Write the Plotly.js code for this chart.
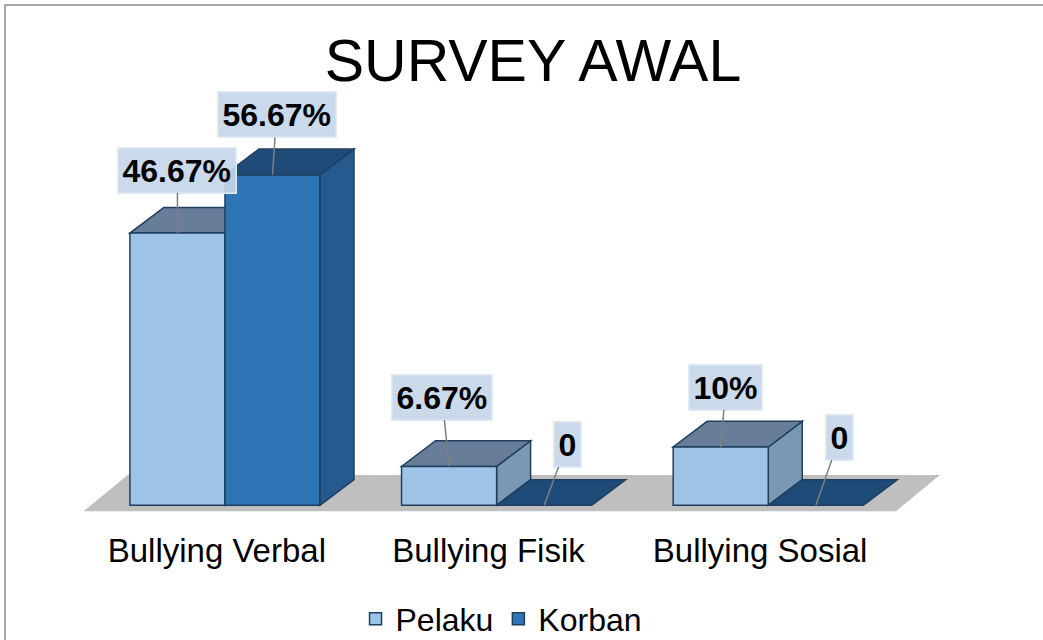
<!DOCTYPE html>
<html>
<head>
<meta charset="utf-8">
<script src="https://cdn.plot.ly/plotly-3.0.1.min.js"></script>
<style>html,body{margin:0;padding:0;background:#fff;}#chart{width:1043px;height:640px;}</style>
</head>
<body>
<div id="chart"></div>
<script>
// ---- data ----
const categories = ["Bullying Verbal", "Bullying Fisik", "Bullying Sosial"];
const pelaku = [46.67, 6.67, 10];
const korban = [56.67, 0, 0];
const seriesNames = ["Pelaku", "Korban"];
const chartTitle = "SURVEY AWAL";

// ---- styling / geometry (layout only) ----
const barW = 0.35;           // width of each bar in category units
const depthX = 0.125;        // 3D depth offset (x units)
const depthY = 4.4;          // 3D depth offset (y units)
const colors = {
  Pelaku: {front: "#9dc3e6", top: "#687e98", side: "#7a98b6"},
  Korban: {front: "#2e75b6", top: "#1f4b78", side: "#245a8e"}
};
const edge = "#1f3f5f";
// label box offsets in px (box centre relative to bar top centre)
const labelOffsets = {
  Pelaku: [[0, -63], [-7, -69], [5, -60]],
  Korban: [[4, -60], [23, -61], [24, -68]]
};
const font = "Liberation Sans, Arial, sans-serif";

const idx = categories.map((c, i) => i);
const series = [
  {name: seriesNames[0], values: pelaku, shift: -barW / 2},
  {name: seriesNames[1], values: korban, shift: barW / 2}
];

const traces = series.map(s => ({
  type: "bar",
  name: s.name,
  x: idx.map(i => i + s.shift),
  y: s.values,
  width: idx.map(() => barW),
  marker: {color: colors[s.name].front, line: {color: edge, width: 1.5}},
  hoverinfo: "skip",
  cliponaxis: false
}));

function poly(pts) {
  return "M " + pts.map(p => p[0] + "," + p[1]).join(" L ") + " Z";
}

const shapes = [];
// floor
const floorFront = -1.0, floorBack = 5.2, floorLeft = -0.52, floorRight = categories.length - 1 + 0.47, floorDx = 0.162;
shapes.push({
  type: "path", xref: "x", yref: "y", layer: "below",
  path: poly([[floorLeft, floorFront], [floorRight, floorFront], [floorRight + floorDx, floorBack], [floorLeft + floorDx, floorBack]]),
  fillcolor: "#bfbfbf", line: {width: 0}
});
// 3D faces
series.forEach((s, si) => {
  s.values.forEach((v, i) => {
    const x0 = i + s.shift - barW / 2, x1 = i + s.shift + barW / 2;
    const layer = si === 0 ? "below" : "above";
    if (v > 0) {
      shapes.push({
        type: "path", xref: "x", yref: "y", layer: layer,
        path: poly([[x1, 0], [x1, v], [x1 + depthX, v + depthY], [x1 + depthX, depthY]]),
        fillcolor: colors[s.name].side, line: {color: edge, width: 1.5}
      });
    }
    shapes.push({
      type: "path", xref: "x", yref: "y", layer: layer,
      path: poly([[x0, v], [x1, v], [x1 + depthX, v + depthY], [x0 + depthX, v + depthY]]),
      fillcolor: colors[s.name].top, line: {color: edge, width: 1.5}
    });
  });
});
// outer border
shapes.push({
  type: "rect", xref: "paper", yref: "paper",
  x0: -0.0626, x1: 1.1, y0: -0.4, y1: 1.219,
  line: {color: "#8c8c8c", width: 1.5}, fillcolor: "rgba(0,0,0,0)", layer: "below"
});

const annotations = [];
series.forEach(s => {
  s.values.forEach((v, i) => {
    const off = labelOffsets[s.name][i];
    annotations.push({
      x: i + s.shift, y: v, xref: "x", yref: "y",
      text: "<b>" + (v === 0 ? "0" : v + "%") + "</b>",
      showarrow: true, arrowhead: 0, arrowwidth: 1.5, arrowcolor: "#7f7f7f",
      ax: off[0], ay: off[1], standoff: 0,
      bgcolor: "rgba(197,215,233,0.92)", bordercolor: "#e1ebf4", borderwidth: 1.5, borderpad: 4,
      font: {family: font, size: 32, color: "#000"}
    });
  });
});

const layout = {
  width: 1043, height: 640,
  margin: {l: 62, r: 71, t: 97, b: 123.3, autoexpand: false},
  paper_bgcolor: "#fff", plot_bgcolor: "rgba(0,0,0,0)",
  title: {text: chartTitle, font: {family: font, size: 59, color: "#000"}, x: 0.511, xanchor: "center", y: 0.906, yanchor: "middle"},
  xaxis: {
    range: [-0.6, 2.75], tickvals: idx.map(i => i - 0.03), ticktext: categories,
    showgrid: false, zeroline: false, showline: false,
    ticks: "outside", ticklen: 4, tickcolor: "rgba(0,0,0,0)",
    tickfont: {family: font, size: 33, color: "#000"}, fixedrange: true, automargin: false
  },
  yaxis: {range: [-2, 70], visible: false, fixedrange: true},
  barmode: "overlay",
  showlegend: true,
  legend: {
    orientation: "h", x: 0.483, xanchor: "center", y: -0.243, yanchor: "middle",
    font: {family: font, size: 32, color: "#000"}, itemwidth: 30, traceorder: "normal"
  },
  shapes: shapes,
  annotations: annotations
};

Plotly.newPlot("chart", traces, layout, {displayModeBar: false, staticPlot: true});
</script>
</body>
</html>
